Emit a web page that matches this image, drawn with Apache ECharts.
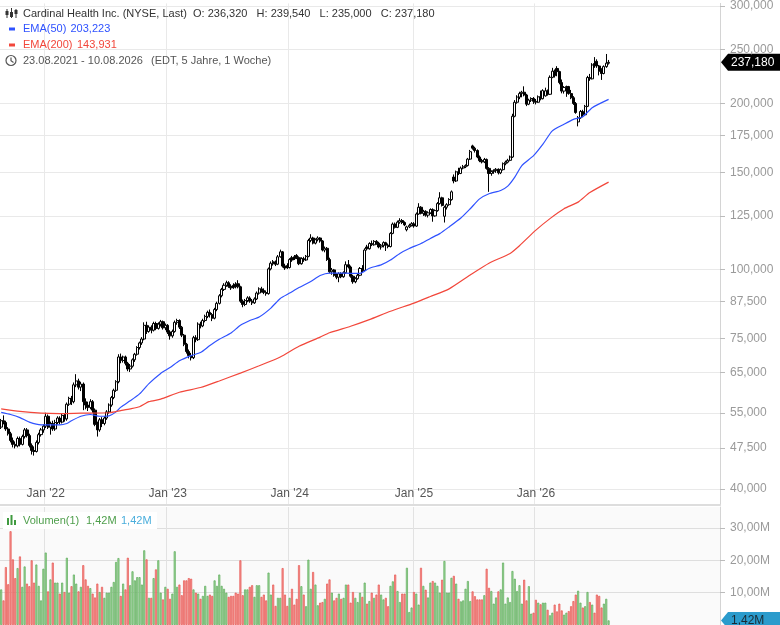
<!DOCTYPE html>
<html>
<head>
<meta charset="utf-8">
<script src="https://cdn.jsdelivr.net/npm/echarts@6/dist/echarts.min.js"></script>
<style>
  html, body { margin: 0; padding: 0; background: #fff; }
  #chart { width: 780px; height: 625px; }
</style>
</head>
<body>
<div id="chart"></div>
<script>
// weekly candles, 23.08.2021 .. 10.08.2026 (one entry per week)
const opens = [
  51.8,53.2,52.8,51.4,50.4,49.0,48.2,47.9,49.4,48.2,
  49.8,51.2,50.0,48.0,47.0,46.8,48.6,50.2,51.2,52.0,
  54.2,51.8,52.6,51.4,52.8,53.8,52.9,54.4,53.6,57.0,
  58.4,57.6,61.8,62.8,61.2,62.0,57.6,56.8,56.2,57.6,
  55.6,52.4,51.2,53.4,52.6,53.8,55.2,56.8,58.6,60.4,
  62.6,69.4,68.4,69.4,67.6,66.0,66.8,68.6,70.2,72.2,
  73.6,74.8,79.2,77.2,78.6,77.6,79.8,78.2,79.6,80.4,
  78.4,79.2,77.0,75.8,77.2,80.2,80.8,78.6,76.0,73.2,
  71.0,69.8,69.2,75.2,74.6,79.6,79.0,80.8,82.2,83.6,
  82.8,81.6,84.6,86.8,89.6,92.0,93.6,94.6,93.2,93.6,
  94.0,94.2,93.0,87.6,86.4,87.8,88.8,87.6,87.0,88.4,
  90.6,92.2,91.6,90.8,90.4,100.2,103.2,103.0,102.2,105.4,
  107.6,101.4,101.6,100.8,105.0,105.4,106.0,105.0,102.4,104.6,
  104.0,105.6,112.8,114.0,111.6,113.2,114.0,112.6,108.4,109.2,
  104.2,99.0,99.8,97.6,96.8,98.2,97.0,98.6,102.0,101.0,
  97.2,95.0,96.2,97.6,100.4,99.6,109.8,109.0,111.4,110.8,
  112.4,111.6,109.8,110.6,111.8,110.6,110.0,116.2,120.8,119.2,
  121.8,122.6,121.6,118.0,119.4,120.2,121.0,119.8,126.0,129.6,
  126.4,127.4,125.4,126.6,128.4,125.0,127.8,131.6,134.8,124.8,
  129.6,131.0,133.8,147.0,144.6,150.2,149.2,152.6,153.4,154.2,
  158.4,167.4,165.8,164.2,159.8,157.4,156.6,158.2,152.4,149.2,
  150.4,151.0,151.8,149.6,151.6,155.4,156.4,157.6,159.8,189.4,
  200.8,205.2,208.2,209.4,207.0,199.2,202.6,204.0,201.6,200.8,
  205.4,203.8,206.2,210.6,207.6,222.8,228.6,231.2,228.2,218.0,
  210.4,213.6,214.4,208.2,204.6,199.8,185.0,188.2,193.2,190.6,
  197.4,222.6,221.4,236.0,238.2,233.6,230.4,226.4,233.0,236.32
];
const closes = [
  53.2,52.8,51.4,50.4,49.0,48.2,47.9,49.4,48.2,49.8,
  51.2,50.0,48.0,47.0,46.8,48.6,50.2,51.2,52.0,54.2,
  51.8,52.6,51.4,52.8,53.8,52.9,54.4,53.6,57.0,58.4,
  57.6,61.8,62.8,61.2,62.0,57.6,56.8,56.2,57.6,55.6,
  52.4,51.2,53.4,52.6,53.8,55.2,56.8,58.6,60.4,62.6,
  69.4,68.4,69.4,67.6,66.0,66.8,68.6,70.2,72.2,73.6,
  74.8,79.2,77.2,78.6,77.6,79.8,78.2,79.6,80.4,78.4,
  79.2,77.0,75.8,77.2,80.2,80.8,78.6,76.0,73.2,71.0,
  69.8,69.2,75.2,74.6,79.6,79.0,80.8,82.2,83.6,82.8,
  81.6,84.6,86.8,89.6,92.0,93.6,94.6,93.2,92.6,92.8,
  93.2,93.0,87.6,86.4,87.8,88.8,87.6,87.0,88.4,90.6,
  92.2,91.6,90.8,90.4,100.2,102.6,102.4,102.2,105.4,107.6,
  101.4,100.6,100.8,104.2,104.0,104.6,105.0,102.4,104.6,104.0,
  105.6,112.8,114.0,111.6,113.2,114.0,112.6,108.4,109.2,104.2,
  99.0,99.8,97.6,96.8,98.2,97.0,98.6,102.0,101.0,97.2,
  95.0,96.2,97.6,100.4,99.6,108.4,109.0,111.4,110.8,112.4,
  111.6,109.8,110.6,111.8,110.6,110.0,116.2,120.8,119.2,121.8,
  122.6,121.6,120.4,119.4,120.2,121.0,119.8,126.0,129.6,126.4,
  127.4,125.4,126.6,128.4,125.0,127.8,131.6,134.8,130.6,129.6,
  131.0,133.8,138.2,144.6,150.2,149.2,152.6,153.4,154.2,158.4,
  163.4,165.8,164.2,159.8,157.4,156.6,158.2,152.4,149.2,150.4,
  151.0,151.8,149.6,151.6,155.4,156.4,157.6,159.8,189.4,200.8,
  205.2,208.2,209.4,207.0,199.2,202.6,204.0,201.6,200.8,205.4,
  203.8,210.8,210.6,207.6,222.8,228.6,224.4,228.2,218.0,210.4,
  213.6,214.4,208.2,204.6,199.8,192.4,188.2,193.2,190.6,197.4,
  222.6,221.4,234.6,234.2,233.6,228.6,226.4,233.0,236.4,237.18
];
const lows = [
  51.4,52.4,51.0,50.0,48.6,47.6,47.4,47.6,47.8,48.0,
  49.4,49.6,47.6,46.2,46.0,46.6,48.2,49.8,50.6,51.6,
  51.4,50.2,51.0,51.0,52.4,52.4,52.6,53.0,53.2,56.6,
  56.8,57.2,61.2,60.6,60.2,55.6,55.8,55.4,55.8,55.0,
  52.0,49.8,50.8,51.8,52.2,53.4,54.8,56.4,58.2,60.0,
  62.2,67.6,67.8,67.0,65.4,65.2,66.4,68.0,69.8,71.6,
  73.0,74.4,76.4,76.8,76.6,77.2,77.6,77.8,78.8,77.8,
  77.6,76.4,74.6,75.2,76.8,79.4,78.0,75.4,72.6,70.4,
  69.0,68.4,68.8,73.8,74.2,78.2,78.6,80.2,81.6,81.8,
  80.6,81.2,84.0,86.4,89.0,91.4,93.0,92.6,91.8,92.2,
  92.4,92.4,87.0,85.4,85.8,87.2,87.0,86.2,86.6,88.0,
  90.0,90.8,90.2,89.6,90.0,99.6,101.6,101.4,101.8,105.0,
  100.8,99.8,100.2,100.4,103.2,104.0,104.4,101.8,102.0,103.2,
  103.6,105.2,112.0,111.0,111.0,112.4,111.8,107.8,107.4,103.6,
  98.4,97.8,97.0,96.0,94.8,96.4,96.6,98.2,100.4,96.6,
  94.2,94.4,95.8,97.2,98.8,99.2,108.2,108.6,110.2,110.4,
  110.8,109.2,108.6,109.6,108.0,109.2,109.6,115.8,118.6,118.8,
  121.0,120.8,119.8,117.2,118.8,119.6,119.0,119.4,125.6,125.8,
  125.0,124.6,124.2,126.0,122.0,124.6,127.2,131.0,130.0,121.6,
  128.4,130.4,133.2,143.2,144.0,148.2,148.8,151.8,152.6,153.6,
  157.8,164.8,162.8,159.0,156.4,155.6,155.8,151.6,138.2,147.8,
  149.0,149.6,148.6,148.8,151.0,154.4,155.6,157.0,159.2,188.6,
  199.6,203.4,205.0,205.8,197.6,198.4,201.0,199.4,199.0,200.2,
  202.4,203.2,205.6,206.4,207.0,222.0,222.6,223.8,216.4,208.4,
  208.2,205.4,207.2,203.4,198.6,191.4,181.6,187.4,188.6,189.8,
  196.8,219.6,220.8,231.8,231.8,224.6,220.4,225.6,231.8,235.0
];
const highs = [
  53.6,54.4,53.2,51.8,50.8,49.6,48.8,49.8,49.8,50.2,
  51.6,51.6,50.4,48.4,47.8,49.0,50.6,51.6,52.4,55.0,
  54.6,53.0,53.2,53.4,54.2,54.2,54.8,54.8,57.4,58.8,
  59.0,62.4,64.6,63.4,62.6,62.4,58.4,57.6,58.2,58.0,
  56.0,53.0,53.8,54.0,54.2,55.6,57.2,59.0,60.8,63.0,
  70.2,70.4,69.8,69.8,68.0,67.4,69.0,70.6,72.6,74.0,
  75.4,80.2,80.4,79.2,79.2,80.4,80.4,80.2,81.0,80.8,
  79.8,79.6,77.6,77.8,80.8,81.4,81.2,79.0,76.4,73.6,
  71.6,70.6,75.8,76.0,80.2,80.4,81.4,82.8,84.2,84.6,
  83.4,85.2,87.4,90.2,92.6,94.4,95.4,95.2,94.0,94.4,
  94.8,95.6,93.4,88.2,88.4,89.4,89.4,88.4,89.0,91.2,
  92.8,93.0,92.4,91.6,100.8,103.4,104.0,103.8,106.2,108.6,
  108.0,102.4,102.6,104.8,105.8,106.2,106.6,105.6,105.2,105.4,
  106.2,113.6,115.8,114.6,113.8,114.8,114.4,113.0,110.0,109.8,
  105.0,100.6,100.2,98.4,98.8,98.8,99.2,103.4,104.0,101.6,
  97.8,96.8,98.2,101.0,101.8,109.2,110.8,112.0,112.8,113.0,
  113.0,112.2,111.2,112.4,112.2,111.4,116.8,121.6,121.6,122.6,
  123.8,123.4,122.2,120.0,121.0,121.8,121.8,126.8,131.8,130.2,
  128.2,128.0,127.4,129.0,129.0,128.4,132.4,138.0,135.4,130.4,
  131.8,134.6,139.0,148.6,151.0,152.8,153.6,154.6,155.0,159.2,
  164.6,168.2,166.8,165.0,160.8,158.6,159.2,158.8,153.2,151.2,
  151.8,152.6,152.4,152.4,156.2,157.4,158.6,160.8,191.4,202.6,
  206.8,209.8,210.6,214.6,208.0,203.8,205.0,205.2,203.6,206.6,
  210.8,212.0,213.4,211.8,224.6,231.8,230.2,233.4,229.0,220.8,
  214.8,215.2,215.0,211.4,206.0,201.0,189.6,194.4,194.6,198.6,
  224.2,226.0,236.4,242.4,240.2,234.6,231.4,234.2,245.6,239.54
];
// weekly volume in millions
const volumes = [
  11.0,7.6,17.9,12.6,29.0,20.3,14.5,17.6,21.2,11.8,
  18.1,12.8,12.0,20.0,13.1,18.7,12.1,7.6,17.4,22.4,
  10.4,14.1,19.3,13.1,13.1,9.7,13.1,10.2,20.8,10.0,
  12.0,15.6,12.8,10.4,11.8,18.5,14.1,12.1,11.4,9.7,
  8.5,12.8,10.2,11.8,8.4,10.0,10.0,11.8,13.3,19.5,
  20.7,9.0,12.8,11.0,20.8,12.3,16.6,13.8,14.8,14.8,
  12.5,23.1,20.3,8.4,8.4,14.5,17.2,20.0,10.0,7.9,
  11.8,11.2,8.1,9.7,22.8,11.8,12.5,9.2,13.8,13.8,
  14.5,14.3,11.0,10.0,9.7,8.1,9.0,12.1,9.0,9.4,
  9.0,13.8,12.1,15.6,12.1,11.2,10.0,8.7,9.0,9.0,
  10.0,9.7,20.0,9.2,11.0,11.0,11.8,12.3,8.7,12.3,
  12.3,8.7,9.4,7.6,16.2,9.4,12.5,5.9,8.4,8.4,
  17.6,9.4,5.9,8.4,11.2,6.3,8.1,18.5,12.0,9.4,
  5.8,20.2,11.2,16.4,12.5,6.1,6.9,7.1,8.1,12.8,
  14.1,10.0,7.6,8.4,9.7,8.1,8.4,12.5,12.5,6.9,
  10.2,8.4,7.1,10.0,8.7,13.1,6.6,7.4,10.0,8.4,
  9.4,12.5,9.4,7.9,8.4,5.8,12.1,13.5,15.6,10.5,
  7.1,9.7,9.7,17.7,4.0,5.4,10.2,9.7,6.3,17.7,
  12.1,10.9,8.5,13.1,13.6,13.1,12.1,10.0,14.0,19.8,
  10.0,10.0,14.6,15.2,12.8,8.1,7.3,7.6,11.2,13.6,
  7.4,10.4,8.9,7.9,7.9,7.9,9.2,17.4,11.5,10.5,
  6.6,8.5,10.4,11.0,19.3,6.6,8.5,7.1,16.7,14.3,
  10.5,12.3,6.6,14.0,7.6,12.0,3.5,3.8,7.8,6.9,
  6.4,6.9,6.9,4.7,3.0,3.8,6.3,4.2,6.6,4.5,
  3.2,3.8,4.3,5.8,7.4,9.4,10.6,6.9,5.4,5.8,
  10.2,7.1,6.3,3.8,9.4,9.0,5.4,6.6,8.1,1.42
];
// moving averages (week index -> value)
const ema50Weeks = [0,4,8,12,17,21,25,28,30,34,38,42,46,49,51,55,59,63,68,72,76,81,85,89,93,98,102,106,110,115,
  119,123,127,132,136,140,145,149,153,157,162,166,170,174,179,183,187,191,196,200,204,208,213,216,219,222,227,231,235,240,
  244,248,252,259];
const ema50 = [55.1,54.6,53.9,52.9,52.3,52.3,52.3,52.6,53.2,54.2,54.6,54.2,54.3,55.2,56.3,57.8,59.5,62.1,64.8,66.4,
  68.3,69.8,70.7,72.8,74.7,76.7,79.2,80.8,82.0,85.1,88.6,90.6,92.7,95.1,97.5,98.5,98.5,98.4,98.4,100.5,
  101.9,104.0,106.9,109.1,111.4,113.8,116.1,119.4,123.9,128.8,134.2,137.1,139.0,141.5,146.9,154.2,160.7,168.6,178.2,183.2,
  187.0,189.1,196.3,203.223];
const ema200Weeks = [0,8,17,25,34,46,51,55,59,63,68,76,85,93,102,110,119,127,136,140,149,157,166,176,183,191,200,208,217,221,
  228,234,240,246,251,259];
const ema200 = [55.9,55.3,54.9,54.8,54.9,55.0,55.5,55.9,56.4,57.6,58.2,59.9,61.1,62.8,64.9,66.9,69.4,72.6,75.4,76.8,
  78.9,81.1,84.0,86.9,89.3,92.2,97.7,102.6,106.9,110.4,117.8,123.6,128.8,132.4,137.8,143.931];

const priceTicks = [40, 47.5, 55, 65, 75, 87.5, 100, 125, 150, 175, 200, 250, 300];
const volumeTicks = [10, 20, 30];

const FONT = '"Liberation Sans", Arial, sans-serif';
const DAY = 86400000;
const startDate = Date.UTC(2021, 7, 23);
const slotCount = 307; // axis runs on past the last week

const weeks = [];
for (let i = 0; i < slotCount; i++) {
  weeks.push(new Date(startDate + i * 7 * DAY).toISOString().slice(0, 10));
}
function isYearStart(i) {
  if (i >= closes.length) return false;
  const d = new Date(startDate + i * 7 * DAY);
  return d.getUTCMonth() === 0 && d.getUTCDate() <= 7;
}
function de(v, digits) {
  return v.toFixed(digits).replace('.', ',');
}

const candles = opens.map((o, i) => [Math.log(o), Math.log(closes[i]), Math.log(lows[i]), Math.log(highs[i])]);
const volData = volumes.map((v, i) => {
  const up = closes[i] >= opens[i];
  return {
    value: v,
    itemStyle: up ? { color: '#a3d9a0', borderColor: '#5aaa57' } : { color: '#f49a97', borderColor: '#e8534f' }
  };
});

const chart = echarts.init(document.getElementById('chart'));

const option = {
  animation: false,
  grid: [
    { left: 0, right: 60, top: 0, height: 505 },
    { left: 0, right: 60, top: 507, height: 118, show: true, backgroundColor: '#fafafa', borderWidth: 0 }
  ],
  xAxis: [
    {
      type: 'category', gridIndex: 0, data: weeks, boundaryGap: true,
      axisLine: { show: true, lineStyle: { color: '#dddddd', width: 2 } },
      axisTick: { show: false },
      axisLabel: {
        inside: true, margin: 5, color: '#555', fontSize: 12, fontFamily: FONT,
        interval: (i) => isYearStart(i),
        formatter: (v) => "Jan '" + v.slice(2, 4)
      },
      splitLine: { show: true, interval: (i) => isYearStart(i), lineStyle: { color: '#e9e9e9' } }
    },
    {
      type: 'category', gridIndex: 1, data: weeks, boundaryGap: true,
      axisLine: { show: false }, axisTick: { show: false }, axisLabel: { show: false },
      splitLine: { show: true, interval: (i) => isYearStart(i), lineStyle: { color: '#e2e2e2' } }
    }
  ],
  yAxis: [
    {
      type: 'value', gridIndex: 0, position: 'right',
      min: 3.6226, max: 5.7146,
      axisLine: { show: true, lineStyle: { color: '#d4d4d4' } },
      axisTick: { show: true, length: 5, customValues: priceTicks.map(Math.log), lineStyle: { color: '#bbbbbb' } },
      axisLabel: {
        customValues: priceTicks.map(Math.log), margin: 10, color: '#9a9a9a', fontSize: 12, fontFamily: FONT,
        formatter: (v) => de(Math.exp(v), 3)
      },
      splitLine: { show: true, lineStyle: { color: '#e9e9e9' } }
    },
    {
      type: 'value', gridIndex: 1, position: 'right', min: 0, max: 36.5,
      axisLine: { show: true, lineStyle: { color: '#d4d4d4' } },
      axisTick: { show: true, length: 5, customValues: volumeTicks, lineStyle: { color: '#bbbbbb' } },
      axisLabel: {
        customValues: volumeTicks, margin: 10, color: '#9a9a9a', fontSize: 12, fontFamily: FONT,
        formatter: (v) => de(v, 2) + 'M'
      },
      splitLine: { show: true, lineStyle: { color: '#dedede' } }
    }
  ],
  series: [
    {
      type: 'candlestick', xAxisIndex: 0, yAxisIndex: 0, data: candles, barWidth: 2.6, z: 3,
      itemStyle: { color: '#ffffff', color0: '#000000', borderColor: '#000000', borderColor0: '#000000', borderWidth: 1 }
    },
    {
      type: 'line', xAxisIndex: 0, yAxisIndex: 0, z: 4, symbol: 'none', smooth: 0.2,
      data: ema50Weeks.map((w, i) => [w, Math.log(ema50[i])]),
      lineStyle: { color: '#2f52ff', width: 1.2 }
    },
    {
      type: 'line', xAxisIndex: 0, yAxisIndex: 0, z: 4, symbol: 'none', smooth: 0.2,
      data: ema200Weeks.map((w, i) => [w, Math.log(ema200[i])]),
      lineStyle: { color: '#f2473b', width: 1.2 }
    },
    {
      type: 'bar', xAxisIndex: 1, yAxisIndex: 1, data: volData, barWidth: 2,
      itemStyle: { borderWidth: 0.7 }
    }
  ]
};
chart.setOption(option);

function txt(x, y, s, color, size) {
  return { type: 'text', x: x, y: y, z: 10,
    style: { text: s, fill: color, font: (size || 11) + 'px ' + FONT, verticalAlign: 'middle' } };
}
function tag(y, bg, fg, label) {
  return { type: 'group', z: 10, children: [
    { type: 'polygon', shape: { points: [[721, y], [728, y - 8.5], [780, y - 8.5], [780, y + 8.5], [728, y + 8.5]] },
      style: { fill: bg } },
    { type: 'text', x: 731, y: y, style: { text: label, fill: fg, font: '12px ' + FONT, verticalAlign: 'middle' } }
  ] };
}

const last = closes.length - 1;
const lastY = chart.convertToPixel({ yAxisIndex: 0 }, Math.log(closes[last]));
const volY = chart.convertToPixel({ yAxisIndex: 1 }, volumes[last]);

chart.setOption({
  graphic: [
    // candle icon
    { type: 'rect', z: 10, shape: { x: 6.5, y: 9, width: 1, height: 9 }, style: { fill: '#333' } },
    { type: 'rect', z: 10, shape: { x: 5.5, y: 11, width: 3, height: 4 }, style: { fill: '#333' } },
    { type: 'rect', z: 10, shape: { x: 11, y: 8, width: 1, height: 10 }, style: { fill: '#333' } },
    { type: 'rect', z: 10, shape: { x: 10, y: 12, width: 3, height: 5 }, style: { fill: '#333' } },
    { type: 'rect', z: 10, shape: { x: 15.5, y: 9, width: 1, height: 9 }, style: { fill: '#333' } },
    { type: 'rect', z: 10, shape: { x: 14.5, y: 10, width: 3, height: 4 }, style: { fill: '#333' } },
    txt(23, 13.5, 'Cardinal Health Inc. (NYSE, Last)', '#333'),
    txt(193, 13.5, 'O: ' + de(opens[last], 3) + '   H: ' + de(highs[last], 3) + '   L: ' + de(lows[last], 3) + '   C: ' + de(closes[last], 3), '#333'),
    { type: 'rect', z: 10, shape: { x: 9, y: 27.5, width: 6, height: 3 }, style: { fill: '#2f52ff' } },
    txt(23, 29, 'EMA(50)', '#2f52ff'),
    txt(70.5, 29, de(ema50[ema50.length - 1], 3), '#2f52ff'),
    { type: 'rect', z: 10, shape: { x: 9, y: 43.5, width: 6, height: 3 }, style: { fill: '#f2473b' } },
    txt(23, 45, 'EMA(200)', '#f2473b'),
    txt(77, 45, de(ema200[ema200.length - 1], 3), '#f2473b'),
    { type: 'circle', z: 10, shape: { cx: 11, cy: 60.5, r: 5 }, style: { fill: 'none', stroke: '#555', lineWidth: 1.2 } },
    { type: 'polyline', z: 10, shape: { points: [[11, 57.5], [11, 60.8], [13.5, 62.5]] }, style: { fill: 'none', stroke: '#555', lineWidth: 1.2 } },
    txt(23, 61, '23.08.2021 - 10.08.2026', '#555'),
    txt(151, 61, '(EDT, 5 Jahre, 1 Woche)', '#555'),
    // volume legend
    { type: 'rect', z: 10, shape: { x: 3, y: 512, width: 154, height: 17 }, style: { fill: '#ffffff' } },
    { type: 'rect', z: 11, shape: { x: 7, y: 518, width: 2, height: 7 }, style: { fill: '#3f9a3f' } },
    { type: 'rect', z: 11, shape: { x: 10.5, y: 515, width: 2, height: 10 }, style: { fill: '#3f9a3f' } },
    { type: 'rect', z: 11, shape: { x: 14, y: 520, width: 2, height: 5 }, style: { fill: '#3f9a3f' } },
    txt(23, 520.5, 'Volumen(1)', '#4f9f4c'),
    txt(86, 520.5, de(volumes[last], 2) + 'M', '#4f9f4c'),
    txt(121, 520.5, de(volumes[last], 2) + 'M', '#4aaedc'),
    tag(lastY, '#000000', '#ffffff', de(closes[last], 3)),
    tag(volY, '#2b9bcc', '#1a2a33', de(volumes[last], 2) + 'M')
  ]
});
</script>
</body>
</html>
